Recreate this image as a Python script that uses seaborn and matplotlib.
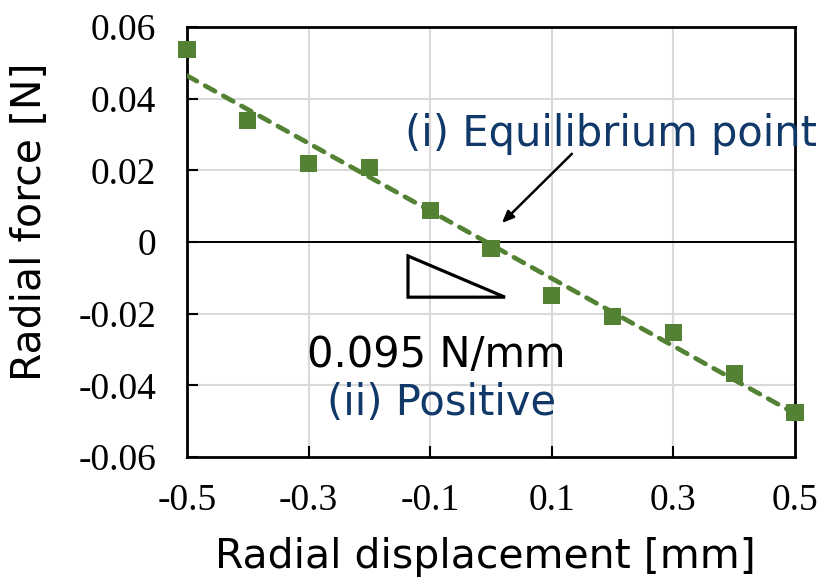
import matplotlib
matplotlib.use("Agg")
import matplotlib.pyplot as plt
from matplotlib.patches import Polygon
import numpy as np
import pandas as pd
import seaborn as sns

# Measured radial force vs. radial displacement
displacement_mm = [-0.5, -0.4, -0.3, -0.2, -0.1, 0.0, 0.1, 0.2, 0.3, 0.4, 0.5]
force_n = [0.0536, 0.0340, 0.0220, 0.0207, 0.0087, -0.0017,
           -0.0150, -0.0208, -0.0253, -0.0367, -0.0476]

x_ticks = [-0.5, -0.3, -0.1, 0.1, 0.3, 0.5]
x_tick_labels = ["-0.5", "-0.3", "-0.1", "0.1", "0.3", "0.5"]
y_ticks = [0.06, 0.04, 0.02, 0.0, -0.02, -0.04, -0.06]
y_tick_labels = ["0.06", "0.04", "0.02", "0", "-0.02", "-0.04", "-0.06"]

GREEN = "#548235"
NAVY = "#103868"
GRID = "#D9D9D9"

sns.set_style("white")
plt.rcParams["font.family"] = ["DejaVu Sans"]
plt.rcParams["text.color"] = "black"
plt.rcParams["axes.labelcolor"] = "black"
plt.rcParams["xtick.color"] = "black"
plt.rcParams["ytick.color"] = "black"

df = pd.DataFrame({"disp": displacement_mm, "force": force_n})

fig = plt.figure(figsize=(8.23, 5.77), dpi=100)
ax = fig.add_axes([187 / 823, 1 - 457 / 577, 608 / 823, 430 / 577])

# light grid behind everything
for xv in [-0.3, -0.1, 0.1, 0.3]:
    ax.axvline(xv, color=GRID, lw=1.5, zorder=0)
for yv in [0.04, 0.02, -0.02, -0.04]:
    ax.axhline(yv, color=GRID, lw=1.5, zorder=0)
ax.axhline(0, color="black", lw=1.4, zorder=1)

sns.regplot(
    data=df, x="disp", y="force", ax=ax, ci=None, truncate=True,
    marker="s",
    scatter_kws=dict(s=150, color=GREEN, edgecolors="none", alpha=1,
                     zorder=4, clip_on=False),
    line_kws=dict(color=GREEN, lw=3.4, dashes=(2.4, 2.0),
                  dash_capstyle="round", zorder=3),
)

ax.set_xlim(-0.5, 0.5)
ax.set_ylim(-0.06, 0.06)
ax.set_xticks(x_ticks)
ax.set_xticklabels(x_tick_labels)
ax.set_yticks(y_ticks)
ax.set_yticklabels(y_tick_labels)

for lab in ax.get_xticklabels() + ax.get_yticklabels():
    lab.set_fontfamily("Liberation Serif")
    lab.set_fontsize(27)
    lab.set_color("black")

ax.tick_params(axis="y", direction="in", length=8, width=1.5, pad=22,
               left=True, right=False, colors="black")
ax.tick_params(axis="x", direction="in", length=8, width=1.5, pad=19,
               bottom=True, top=False, colors="black")
# no visible tick marks at the x-axis ends
for t in ax.xaxis.get_major_ticks():
    if abs(abs(t.get_loc()) - 0.5) < 1e-9:
        t.tick1line.set_visible(False)

for sp in ax.spines.values():
    sp.set_color("black")
    sp.set_linewidth(2.0)

ax.set_xlabel("Radial displacement [mm]", fontsize=29.5, color="black")
ax.set_ylabel("Radial force [N]", fontsize=29.5, color="black")
ax.xaxis.set_label_coords(0.49, -0.185)
ax.yaxis.set_label_coords(-0.225, 0.547)

# slope triangle
tri = Polygon([(-0.1365, -0.0039), (-0.1365, -0.0154), (0.023, -0.0154)],
              closed=True, fill=False, edgecolor="black", lw=2.3, zorder=5)
ax.add_patch(tri)

ax.text(-0.141, 0.0268, "(i) Equilibrium point", color=NAVY, fontsize=30,
        ha="left", va="baseline", clip_on=False, zorder=6)
ax.text(-0.303, -0.0349, "0.095 N/mm", color="black", fontsize=30,
        ha="left", va="baseline", zorder=6)
ax.text(-0.270, -0.0483, "(ii) Positive", color=NAVY, fontsize=30,
        ha="left", va="baseline", zorder=6)

ax.annotate("", xy=(0.018, 0.0053), xytext=(0.133, 0.0246),
            arrowprops=dict(arrowstyle="-|>,head_length=0.7,head_width=0.3",
                            color="black", lw=1.8, shrinkA=0, shrinkB=0),
            zorder=6)

fig.savefig("out.png", dpi=100)
